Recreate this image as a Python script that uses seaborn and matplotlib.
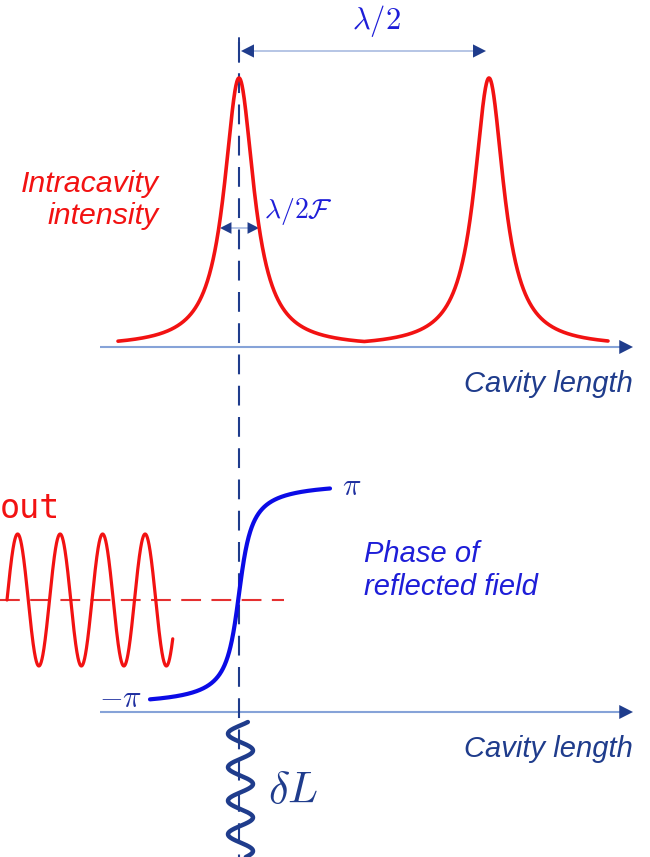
import numpy as np
import pandas as pd
import matplotlib
matplotlib.use("Agg")
import matplotlib.pyplot as plt
import seaborn as sns

sns.set_theme(style="white")
plt.rcParams["font.family"] = ["Liberation Sans", "DejaVu Sans"]
plt.rcParams["mathtext.fontset"] = "cm"

# ---------------- data ----------------
peak_centers = [0.0, 1.0]        # resonances, in units of lambda/2
peak_height = 1.0                # normalised intracavity intensity
fwhm = 0.144                     # lambda/(2F) in units of lambda/2  (F ~ 7)
length_range = [-0.484, 1.476]   # drawn cavity-length span
phase_width = 0.038              # half width of the phase jump
phase_range = [-0.356, 0.364]    # drawn span of the phase curve
out_cycles = [0.0, 3.9]          # output field oscillation (cycles)
out_amplitude = 1.0
dl_cycles = [0.15, 4.18]         # length modulation deltaL (cycles)
dl_amplitude = 1.0

NAVY = "#1f3c8c"
AXBLUE = "#86a3d8"
RED = "#f21212"
BLUE = "#0b0be6"
TXTBLUE = "#1e1ed8"

W, H = 650, 857
fig = plt.figure(figsize=(W / 100, H / 100), dpi=100)


def mapped_axes(a, b, c, d):
    """Full-figure axes whose data map to pixels: px = a + b*x, py = c + d*y."""
    ax = fig.add_axes([0, 0, 1, 1])
    ax.set_xlim((0 - a) / b, (W - a) / b)
    ax.set_ylim((H - c) / d, (0 - c) / d)
    ax.axis("off")
    ax.patch.set_alpha(0)
    return ax


# overlay in pixel coordinates for annotations
ax0 = fig.add_axes([0, 0, 1, 1])
ax0.set_xlim(0, W)
ax0.set_ylim(H, 0)
ax0.axis("off")

# ---- top panel: intracavity intensity ----
ax_top = mapped_axes(239, 250, 347, -269)
x = np.linspace(length_range[0], length_range[1], 2000)
hw = fwhm / 2
I = np.max([peak_height / (1 + ((x - c) / hw) ** 2) for c in peak_centers], axis=0)
sns.lineplot(data=pd.DataFrame({"L": x, "I": I}), x="L", y="I", ax=ax_top,
             color=RED, lw=2.6, estimator=None, sort=False)
ax_top.axis("off")

# ---- bottom panel: phase of reflected field ----
ax_bot = mapped_axes(239, 250, 594, -113 / np.pi)
xp = np.linspace(phase_range[0], phase_range[1], 800)
phi = 2 * np.arctan(xp / phase_width)
sns.lineplot(data=pd.DataFrame({"L": xp, "phi": phi}), x="L", y="phi", ax=ax_bot,
             color=BLUE, lw=3.0, estimator=None, sort=False)
ax_bot.axis("off")

# ---- output field oscillation ----
ax_out = mapped_axes(7, 42.5, 600, -66)
t = np.linspace(out_cycles[0], out_cycles[1], 800)
sns.lineplot(data=pd.DataFrame({"t": t, "E": out_amplitude * np.sin(2 * np.pi * t)}),
             x="t", y="E", ax=ax_out, color=RED, lw=2.3, estimator=None, sort=False)
ax_out.axis("off")

# ---- deltaL modulation (vertical wiggle) ----
ax_dl = mapped_axes(240.5, 12.5, 717, 33.5)
s = np.linspace(dl_cycles[0], dl_cycles[1], 800)
sns.lineplot(data=pd.DataFrame({"a": dl_amplitude * np.cos(2 * np.pi * s), "s": s}),
             x="a", y="s", ax=ax_dl, color=NAVY, lw=3.2, estimator=None, sort=False)
ax_dl.axis("off")

# ---------------- axes lines & arrows ----------------
def head(ax, tip, direction, color=NAVY, length=13, ms=18):
    tx, ty = tip
    dx, dy = direction
    ax.annotate("", xy=(tx, ty), xytext=(tx - dx * length, ty - dy * length),
                arrowprops=dict(arrowstyle="-|>,head_length=0.55,head_width=0.28",
                                color=color, lw=0, shrinkA=0, shrinkB=0,
                                mutation_scale=ms))

for yax in (347, 712):
    ax0.plot([100, 622], [yax, yax], color=AXBLUE, lw=1.5, solid_capstyle="butt")
    head(ax0, (633, yax), (1, 0))

# vertical dashed reference line
ax0.plot([239, 239], [42, H], color=NAVY, lw=1.5, ls=(0, (9.5, 5.5)))
ax0.plot([239, 239], [38, 62], color=NAVY, lw=1.4)
ax0.plot([239, 239], [700, 712], color=NAVY, lw=1.4)

# red dashed horizontal line
ax0.plot([0, 284], [600, 600], color="#e53030", lw=1.5, ls=(0, (9.5, 5)))

# lambda/2 arrow
ax0.plot([250, 476], [51, 51], color="#a9bbe0", lw=1.2)
head(ax0, (241, 51), (-1, 0), length=12, ms=17)
head(ax0, (486, 51), (1, 0), length=12, ms=17)

# FWHM arrow
ax0.plot([228, 251], [228, 228], color="#a9bbe0", lw=1.2)
head(ax0, (220, 228), (-1, 0), length=10, ms=15)
head(ax0, (259, 228), (1, 0), length=10, ms=15)

# ---------------- texts ----------------
it = dict(style="italic", fontsize=21)
ax0.text(159, 192, "Intracavity", color=RED, ha="right", va="baseline",
         style="italic", fontsize=21.8)
ax0.text(159, 224, "intensity", color=RED, ha="right", va="baseline",
         style="italic", fontsize=21.8)
ax0.text(633, 392, "Cavity length", color=NAVY, ha="right", va="baseline", **it)
ax0.text(633, 757, "Cavity length", color=NAVY, ha="right", va="baseline", **it)
ax0.text(364, 562, "Phase of", color=TXTBLUE, ha="left", va="baseline", **it)
ax0.text(364, 595, "reflected field", color=TXTBLUE, ha="left", va="baseline", **it)

ax0.text(352, 29, r"$\lambda/2$", color=TXTBLUE, fontsize=22, ha="left", va="baseline")
ax0.text(264, 218, r"$\lambda/2\mathcal{F}$", color=TXTBLUE, fontsize=20,
         ha="left", va="baseline")
ax0.text(342, 495, r"$\pi$", color="#1f2fa0", fontsize=22, ha="left", va="baseline")
ax0.text(99, 707, r"$-\pi$", color="#1f2fa0", fontsize=22, ha="left", va="baseline")
ax0.text(268, 803, r"$\delta L$", color=NAVY, fontsize=32, ha="left", va="baseline")
ax0.text(0, 518, "out", color=RED, fontsize=24, family="DejaVu Sans Mono",
         ha="left", va="baseline")

fig.savefig("out.png", dpi=100, facecolor="white")
